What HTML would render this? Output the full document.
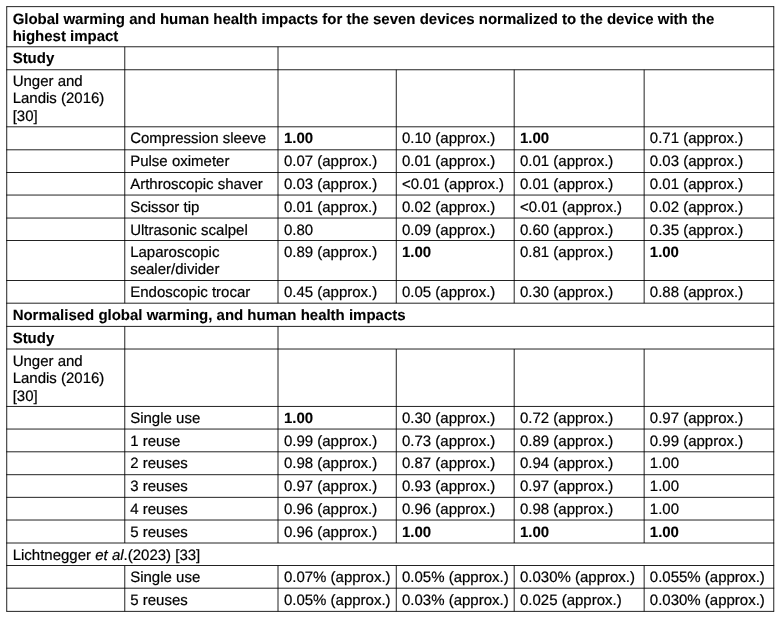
<!DOCTYPE html>
<html><head><meta charset="utf-8"><title>Table</title>
<style>
html,body{margin:0;padding:0;background:#fff;}
body{width:782px;height:618px;overflow:hidden;position:relative;font-family:"Liberation Sans",sans-serif;font-size:15px;line-height:17.25px;color:#000;}
table{position:absolute;left:6px;top:6px;border-collapse:collapse;border-spacing:0;table-layout:fixed;width:767px;}
td{text-rendering:geometricPrecision;-webkit-text-stroke:0.2px #000;border:0;padding:4px 0 0 0;vertical-align:top;white-space:nowrap;overflow:hidden;box-sizing:border-box;}
td b{font-weight:bold;-webkit-text-stroke:0.1px #000;letter-spacing:-0.01px}
.c0{padding-left:6.65px}
.c1{padding-left:6.20px}
.c2{padding-left:5.90px}
.c3{padding-left:5.95px}
.c4{padding-left:5.95px}
.c5{padding-left:5.80px}
.grid{position:absolute;left:0;top:0;pointer-events:none}
</style></head><body>
<table><col style="width:118px"><col style="width:154px"><col style="width:118px"><col style="width:118px"><col style="width:130px"><col style="width:129px">
<tr style="height:40px"><td class="c0" colspan="6" style="padding-top:5px"><b>Global warming and human health impacts for the seven devices normalized to the device with the<br>highest impact</b></td></tr>
<tr style="height:23px"><td class="c0"><b>Study</b></td><td class="c1"></td><td class="c2" colspan="4"></td></tr>
<tr style="height:57px"><td class="c0">Unger and<br>Landis (2016)<br>[30]</td><td class="c1"></td><td class="c2"></td><td class="c3"></td><td class="c4"></td><td class="c5"></td></tr>
<tr style="height:23px"><td class="c0"></td><td class="c1">Compression sleeve</td><td class="c2"><b>1.00</b></td><td class="c3">0.10 (approx.)</td><td class="c4"><b>1.00</b></td><td class="c5">0.71 (approx.)</td></tr>
<tr style="height:23px"><td class="c0"></td><td class="c1">Pulse oximeter</td><td class="c2">0.07 (approx.)</td><td class="c3">0.01 (approx.)</td><td class="c4">0.01 (approx.)</td><td class="c5">0.03 (approx.)</td></tr>
<tr style="height:23px"><td class="c0"></td><td class="c1">Arthroscopic shaver</td><td class="c2">0.03 (approx.)</td><td class="c3">&lt;0.01 (approx.)</td><td class="c4">0.01 (approx.)</td><td class="c5">0.01 (approx.)</td></tr>
<tr style="height:23px"><td class="c0"></td><td class="c1">Scissor tip</td><td class="c2">0.01 (approx.)</td><td class="c3">0.02 (approx.)</td><td class="c4">&lt;0.01 (approx.)</td><td class="c5">0.02 (approx.)</td></tr>
<tr style="height:22px"><td class="c0"></td><td class="c1">Ultrasonic scalpel</td><td class="c2">0.80</td><td class="c3">0.09 (approx.)</td><td class="c4">0.60 (approx.)</td><td class="c5">0.35 (approx.)</td></tr>
<tr style="height:40px"><td class="c0"></td><td class="c1">Laparoscopic<br>sealer/divider</td><td class="c2">0.89 (approx.)</td><td class="c3"><b>1.00</b></td><td class="c4">0.81 (approx.)</td><td class="c5"><b>1.00</b></td></tr>
<tr style="height:23px"><td class="c0"></td><td class="c1">Endoscopic trocar</td><td class="c2">0.45 (approx.)</td><td class="c3">0.05 (approx.)</td><td class="c4">0.30 (approx.)</td><td class="c5">0.88 (approx.)</td></tr>
<tr style="height:23px"><td class="c0" colspan="6"><b>Normalised global warming, and human health impacts</b></td></tr>
<tr style="height:23px"><td class="c0"><b>Study</b></td><td class="c1"></td><td class="c2" colspan="4"></td></tr>
<tr style="height:57px"><td class="c0">Unger and<br>Landis (2016)<br>[30]</td><td class="c1"></td><td class="c2"></td><td class="c3"></td><td class="c4"></td><td class="c5"></td></tr>
<tr style="height:23px"><td class="c0"></td><td class="c1">Single use</td><td class="c2"><b>1.00</b></td><td class="c3">0.30 (approx.)</td><td class="c4">0.72 (approx.)</td><td class="c5">0.97 (approx.)</td></tr>
<tr style="height:22px"><td class="c0"></td><td class="c1">1 reuse</td><td class="c2">0.99 (approx.)</td><td class="c3">0.73 (approx.)</td><td class="c4">0.89 (approx.)</td><td class="c5">0.99 (approx.)</td></tr>
<tr style="height:23px"><td class="c0"></td><td class="c1">2 reuses</td><td class="c2">0.98 (approx.)</td><td class="c3">0.87 (approx.)</td><td class="c4">0.94 (approx.)</td><td class="c5">1.00</td></tr>
<tr style="height:23px"><td class="c0"></td><td class="c1">3 reuses</td><td class="c2">0.97 (approx.)</td><td class="c3">0.93 (approx.)</td><td class="c4">0.97 (approx.)</td><td class="c5">1.00</td></tr>
<tr style="height:23px"><td class="c0"></td><td class="c1">4 reuses</td><td class="c2">0.96 (approx.)</td><td class="c3">0.96 (approx.)</td><td class="c4">0.98 (approx.)</td><td class="c5">1.00</td></tr>
<tr style="height:23px"><td class="c0"></td><td class="c1">5 reuses</td><td class="c2">0.96 (approx.)</td><td class="c3"><b>1.00</b></td><td class="c4"><b>1.00</b></td><td class="c5"><b>1.00</b></td></tr>
<tr style="height:22px"><td class="c0" colspan="6">Lichtnegger <i>et al</i>.(2023) [33]</td></tr>
<tr style="height:23px"><td class="c0"></td><td class="c1">Single use</td><td class="c2">0.07% (approx.)</td><td class="c3">0.05% (approx.)</td><td class="c4">0.030% (approx.)</td><td class="c5">0.055% (approx.)</td></tr>
<tr style="height:23px"><td class="c0"></td><td class="c1">5 reuses</td><td class="c2">0.05% (approx.)</td><td class="c3">0.03% (approx.)</td><td class="c4">0.025 (approx.)</td><td class="c5">0.030% (approx.)</td></tr>
</table>
<svg class="grid" width="782" height="618" viewBox="0 0 782 618" stroke="#000" stroke-width="0.87" fill="none"><line x1="6.29" y1="6.64" x2="774.18" y2="6.64"/><line x1="6.29" y1="46.77" x2="774.18" y2="46.77"/><line x1="6.29" y1="69.75" x2="774.18" y2="69.75"/><line x1="6.29" y1="126.80" x2="774.18" y2="126.80"/><line x1="6.29" y1="149.80" x2="774.18" y2="149.80"/><line x1="6.29" y1="172.50" x2="774.18" y2="172.50"/><line x1="6.29" y1="195.05" x2="774.18" y2="195.05"/><line x1="6.29" y1="218.05" x2="774.18" y2="218.05"/><line x1="6.29" y1="240.50" x2="774.18" y2="240.50"/><line x1="6.29" y1="280.50" x2="774.18" y2="280.50"/><line x1="6.29" y1="303.20" x2="774.18" y2="303.20"/><line x1="6.29" y1="326.40" x2="774.18" y2="326.40"/><line x1="6.29" y1="349.02" x2="774.18" y2="349.02"/><line x1="6.29" y1="406.45" x2="774.18" y2="406.45"/><line x1="6.29" y1="429.05" x2="774.18" y2="429.05"/><line x1="6.29" y1="451.80" x2="774.18" y2="451.80"/><line x1="6.29" y1="474.70" x2="774.18" y2="474.70"/><line x1="6.29" y1="497.35" x2="774.18" y2="497.35"/><line x1="6.29" y1="520.02" x2="774.18" y2="520.02"/><line x1="6.29" y1="543.00" x2="774.18" y2="543.00"/><line x1="6.29" y1="565.50" x2="774.18" y2="565.50"/><line x1="6.29" y1="588.20" x2="774.18" y2="588.20"/><line x1="6.29" y1="611.38" x2="774.18" y2="611.38"/><line x1="6.72" y1="6.64" x2="6.72" y2="611.38"/><line x1="773.75" y1="6.64" x2="773.75" y2="611.38"/><line x1="124.77" y1="46.77" x2="124.77" y2="303.20"/><line x1="124.77" y1="326.40" x2="124.77" y2="543.00"/><line x1="124.77" y1="565.50" x2="124.77" y2="611.38"/><line x1="278.00" y1="46.77" x2="278.00" y2="303.20"/><line x1="278.00" y1="326.40" x2="278.00" y2="543.00"/><line x1="278.00" y1="565.50" x2="278.00" y2="611.38"/><line x1="396.28" y1="69.75" x2="396.28" y2="303.20"/><line x1="396.28" y1="349.02" x2="396.28" y2="543.00"/><line x1="396.28" y1="565.50" x2="396.28" y2="611.38"/><line x1="514.20" y1="69.75" x2="514.20" y2="303.20"/><line x1="514.20" y1="349.02" x2="514.20" y2="543.00"/><line x1="514.20" y1="565.50" x2="514.20" y2="611.38"/><line x1="644.15" y1="69.75" x2="644.15" y2="303.20"/><line x1="644.15" y1="349.02" x2="644.15" y2="543.00"/><line x1="644.15" y1="565.50" x2="644.15" y2="611.38"/></svg>
</body></html>
